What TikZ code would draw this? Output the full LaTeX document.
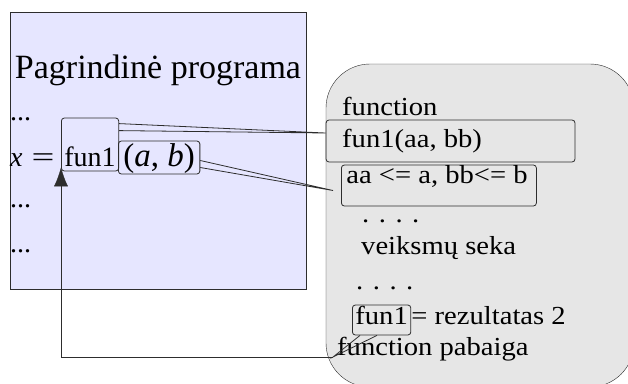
\documentclass[tikz,border=0pt]{standalone}
\usepackage{fontspec}
\setmainfont{Liberation Serif}
\newfontfamily\codefont[FakeStretch=1.1]{Liberation Serif}
\usetikzlibrary{arrows.meta, fit}

\definecolor{mainbg}{RGB}{230,230,255}
\definecolor{funcbg}{RGB}{230,230,230}
\definecolor{edge}{RGB}{45,45,45}

\begin{document}
\begin{tikzpicture}[x=1pt, y=-1pt,
    txt/.style={anchor=base west, inner sep=0pt, font=\fontsize{28}{30}\selectfont},
    code/.style={anchor=base west, inner sep=0pt, font=\codefont\fontsize{26}{28}\selectfont},
    cbox/.style={draw=edge, line width=0.8pt, rounded corners=3pt, inner sep=3pt},
    wedge/.style={edge, line width=0.8pt}]
    \useasboundingbox (0,0) rectangle (628,383);

    % Main program block
    \draw[edge, fill=mainbg] (10,12) rectangle (306,289);
    \node[anchor=base, inner sep=0pt, font=\fontsize{34}{36}\selectfont] (title) at (158,78) {Pagrindinė programa};

    % Function block (runs off the page on the right and bottom)
    \draw[edge, fill=funcbg, rounded corners=44pt] (326,64) rectangle (634,387);

    % Calling line
    \node[txt] (dots1) at (10,120) {...};
    \node[txt] (xeq) at (10,166) {\textit{x}\hspace{9pt}\scalebox{1.45}[1]{=}};
    \node[cbox, anchor=base west, font=\fontsize{28}{30}\selectfont, text height=45pt, text depth=2pt] (callfun) at (61,166) {fun1};
    \node[cbox, anchor=base west, font=\fontsize{33}{35}\selectfont, inner xsep=5pt, text height=22pt, text depth=5pt] (args) at (118,166) {(\textit{a}, \textit{b})};
    \node[txt] (dots2) at (10,207) {...};
    \node[txt] (dots3) at (10,252) {...};

    % Body of the function
    \node[code] (fhead) at (342,115) {function};
    \node[code] (defname) at (342,147) {fun1(aa, bb)};
    \node[cbox, inner sep=0pt, fit={([shift={(-16,-27)}]defname.base west) ([shift={(233,15)}]defname.base west)}] (deffun) {};
    \node[cbox, anchor=base west, font=\codefont\fontsize{26}{28}\selectfont, inner xsep=5pt, text height=15pt, text depth=20pt] (argcopy) at (341,183) {\makebox[185pt][l]{aa <= a, bb<= b}};
    \node[code] (dots4) at (362,222) {. . . .};
    \node[code] (body) at (361,254) {veiksmų seka};
    \node[code] (dots5) at (356,289) {. . . .};
    \node[cbox, anchor=base west, font=\codefont\fontsize{26}{28}\selectfont, text height=16pt, text depth=8pt] (retfun) at (352,324) {fun1};
    \node[code] (rez) at (retfun.base east) {= rezultatas 2};
    \node[code] (fend) at (337,355) {function pabaiga};
    \coordinate (ret) at (333,357);

    % Callout pointers
    \draw[wedge] ([yshift=-6pt]callfun.north east) -- ([yshift=8pt]deffun.west) -- ([yshift=-13pt]callfun.north east);
    \draw[wedge] ([yshift=-3pt]args.east) -- ([xshift=-8pt, yshift=-5pt]argcopy.west) -- ([yshift=-10pt]args.east);
    \draw[wedge] ([xshift=8pt]retfun.south west) -- (ret) -- ([xshift=25pt]retfun.south west);

    % Return to the caller
    \draw[edge, -{Latex[length=19pt, width=14pt]}] (ret) -| ([yshift=4pt]callfun.south west);
\end{tikzpicture}
\end{document}
